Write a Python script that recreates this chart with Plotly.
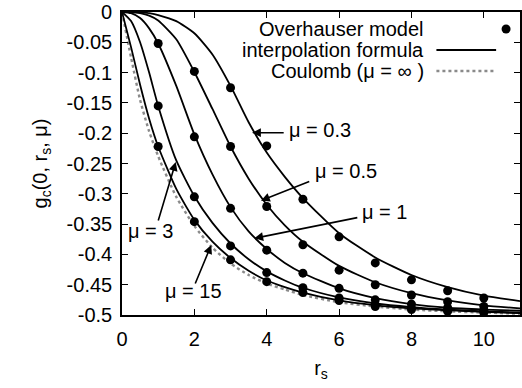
import plotly.graph_objects as go

# ---------------- data ----------------
rs_curve = [0, 0.25, 0.5, 0.75, 1, 1.5, 2, 2.5, 3, 3.5, 4, 4.5, 5, 6, 7, 8, 9, 10, 11]

curve_coulomb = [0, -0.075, -0.145, -0.197, -0.238, -0.305, -0.353, -0.389, -0.415, -0.434,
                 -0.448, -0.458, -0.467, -0.479, -0.486, -0.491, -0.494, -0.496, -0.498]
curve_mu15 = [0, -0.058, -0.120, -0.176, -0.222, -0.292, -0.343, -0.379, -0.406, -0.427,
              -0.443, -0.454, -0.463, -0.476, -0.484, -0.489, -0.492, -0.495, -0.497]
curve_mu3 = [0, -0.015, -0.050, -0.100, -0.155, -0.245, -0.304, -0.348, -0.382, -0.408,
             -0.428, -0.443, -0.455, -0.471, -0.481, -0.487, -0.491, -0.494, -0.496]
curve_mu1 = [0, -0.002, -0.010, -0.027, -0.052, -0.122, -0.202, -0.268, -0.322, -0.362,
             -0.391, -0.414, -0.431, -0.456, -0.472, -0.482, -0.488, -0.491, -0.493]
curve_mu05 = [0, 0.0, -0.002, -0.006, -0.014, -0.045, -0.099, -0.160, -0.222, -0.275,
              -0.318, -0.352, -0.379, -0.419, -0.446, -0.464, -0.476, -0.484, -0.489]
curve_mu03 = [0, 0.0, 0.0, -0.002, -0.005, -0.015, -0.035, -0.070, -0.122, -0.182,
              -0.232, -0.272, -0.307, -0.365, -0.405, -0.434, -0.454, -0.468, -0.477]

rs_points = [1, 2, 3, 4, 5, 6, 7, 8, 9, 10]
pts_mu03 = [None, None, -0.125, -0.221, -0.309, -0.371, -0.414, -0.442, -0.460, -0.472]
pts_mu05 = [None, -0.098, -0.222, -0.321, -0.384, -0.426, -0.450, -0.467, -0.478, -0.486]
pts_mu1 = [-0.052, -0.206, -0.324, -0.393, -0.431, -0.456, -0.475, -0.482, -0.488, -0.492]
pts_mu3 = [-0.155, -0.305, -0.386, -0.430, -0.455, -0.472, -0.483, -0.489, -0.492, -0.494]
pts_mu15 = [-0.222, -0.346, -0.409, -0.445, -0.463, -0.476, -0.486, -0.491, -0.494, -0.496]

x_tickvals = [0, 2, 4, 6, 8, 10]
x_ticktext = ["0", "2", "4", "6", "8", "10"]
y_tickvals = [0, -0.05, -0.1, -0.15, -0.2, -0.25, -0.3, -0.35, -0.4, -0.45, -0.5]
y_ticktext = ["0", "-0.05", "-0.1", "-0.15", "-0.2", "-0.25", "-0.3", "-0.35", "-0.4", "-0.45", "-0.5"]

# ---------------- layout helpers ----------------
W, H = 522, 388
L, R, T, B = 122, 0, 12, 73
XMAX = 11.0
YMIN = -0.5


def px2x(px):
    return (px - L) / (W - L - R) * XMAX


def py2y(py):
    return (py - T) / (H - T - B) * YMIN


FONT = "Liberation Sans, Arial, Helvetica, sans-serif"
FS = 20

fig = go.Figure()

line_style = dict(color="black", width=1.8, shape="spline", smoothing=0.6)
fig.add_trace(go.Scatter(x=rs_curve, y=curve_coulomb, mode="lines",
                         line=dict(color="#8a8a8a", width=2.4, dash="dot", shape="spline", smoothing=0.6)))
for c in [curve_mu15, curve_mu3, curve_mu1, curve_mu05, curve_mu03]:
    fig.add_trace(go.Scatter(x=rs_curve, y=c, mode="lines", line=line_style))

for p in [pts_mu03, pts_mu05, pts_mu1, pts_mu3, pts_mu15]:
    fig.add_trace(go.Scatter(x=rs_points, y=p, mode="markers",
                             marker=dict(color="black", size=9, line=dict(width=0))))

annotations = []
shapes = []

# legend (gnuplot style: text right-aligned, sample on the right)
leg_rows = [("Overhauser model", 29), ("interpolation formula", 50), ("Coulomb (μ = ∞ )", 71)]
for txt, py in leg_rows:
    annotations.append(dict(x=px2x(428), y=py2y(py), xref="x", yref="y", text=txt,
                            showarrow=False, xanchor="right", yanchor="middle",
                            font=dict(family=FONT, size=FS, color="black")))
shapes.append(dict(type="circle", xref="x", yref="y", x0=px2x(503.5), x1=px2x(512.5),
                   y0=py2y(24.5), y1=py2y(33.5), fillcolor="black", line=dict(width=0)))
shapes.append(dict(type="line", xref="x", yref="y", x0=px2x(438), x1=px2x(498),
                   y0=py2y(50), y1=py2y(50), line=dict(color="black", width=1.8)))
shapes.append(dict(type="line", xref="x", yref="y", x0=px2x(438), x1=px2x(498),
                   y0=py2y(71), y1=py2y(71), line=dict(color="#8a8a8a", width=2.4, dash="dot")))

# mu labels with arrows: (text, text_left_px, text_y_px, tail_px, tip_px)
labels = [
    ("μ = 0.3", 288, 130, (286, 132.7), (252.7, 132.7)),
    ("μ = 0.5", 314, 171, (311.7, 181), (261.7, 200.7)),
    ("μ = 1", 361, 212, (360, 217.3), (255, 238.3)),
    ("μ = 3", 126, 231, (158, 222), (176, 162)),
    ("μ = 15", 163, 291, (195, 285), (211.7, 245)),
]
for txt, tx, ty, tail, tip in labels:
    annotations.append(dict(x=px2x(tx), y=py2y(ty), xref="x", yref="y", text=txt,
                            showarrow=False, xanchor="left", yanchor="middle",
                            font=dict(family=FONT, size=FS, color="black")))
    annotations.append(dict(x=px2x(tip[0]), y=py2y(tip[1]), xref="x", yref="y",
                            ax=px2x(tail[0]), ay=py2y(tail[1]), axref="x", ayref="y",
                            text="", showarrow=True, arrowhead=2, arrowsize=1.1,
                            arrowwidth=1.6, arrowcolor="black", standoff=0))

axis_common = dict(showgrid=False, zeroline=False, showline=True, linecolor="black",
                   linewidth=1.6, mirror="ticks", ticks="inside", ticklen=6,
                   tickwidth=1.2, tickcolor="black",
                   tickfont=dict(family=FONT, size=FS, color="black"))

fig.update_layout(
    width=W, height=H, autosize=False,
    margin=dict(l=L, r=R, t=T, b=B, pad=0),
    paper_bgcolor="white", plot_bgcolor="white",
    showlegend=False,
    xaxis=dict(range=[0, XMAX], tickvals=x_tickvals, ticktext=x_ticktext,
               ticklabelstandoff=5,
               title=dict(text="r<sub>s</sub>", font=dict(family=FONT, size=FS, color="black"),
                          standoff=12),
               **axis_common),
    yaxis=dict(range=[YMIN, 0], tickvals=y_tickvals, ticktext=y_ticktext,
               ticklabelstandoff=4,
               title=dict(text="g<sub>c</sub>(0, r<sub>s</sub>, μ)",
                          font=dict(family=FONT, size=FS, color="black"), standoff=14),
               **axis_common),
    annotations=annotations,
    shapes=shapes,
)

fig.write_html("out.html")
